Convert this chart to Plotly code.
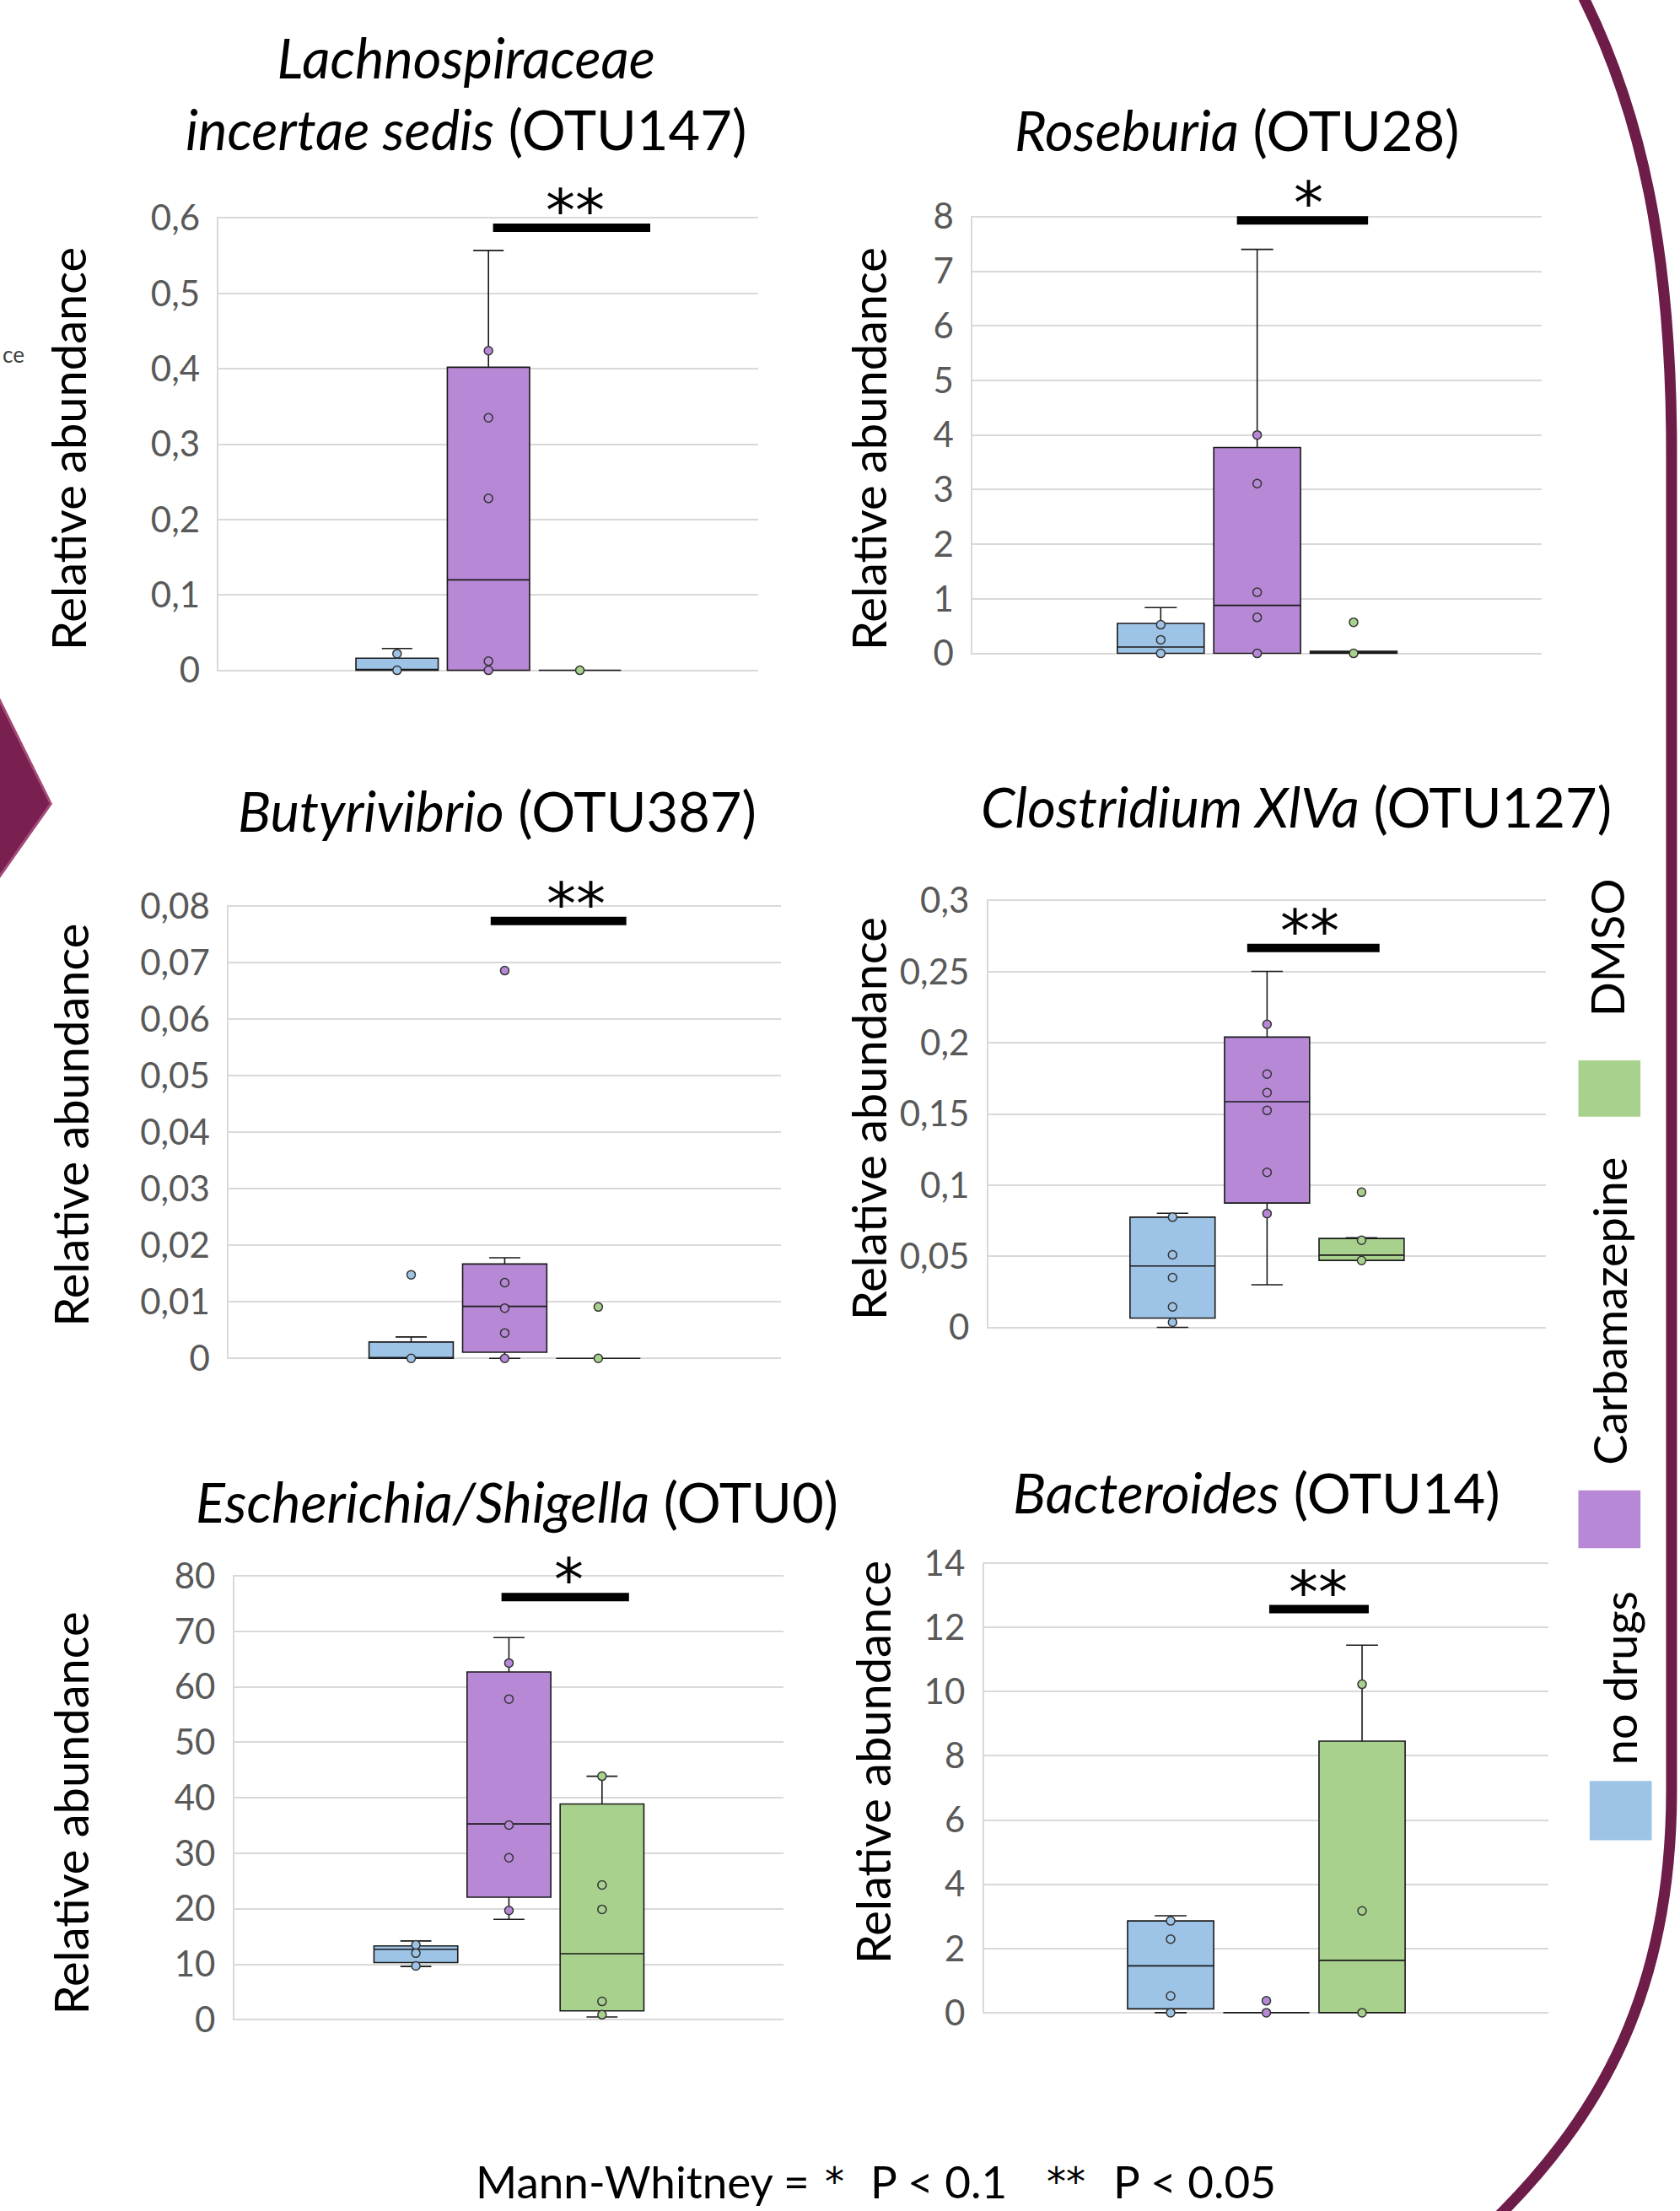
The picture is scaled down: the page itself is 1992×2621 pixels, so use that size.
import plotly.graph_objects as go

# ---------------- data ----------------
groups = ["no drugs", "Carbamazepine", "DMSO"]
group_pos = [0, 1, 2]

titles = [
    "<i>Lachnospiraceae</i><br><i>incertae sedis</i> (OTU147)",
    "<i>Roseburia</i> (OTU28)",
    "<i>Butyrivibrio</i> (OTU387)",
    "<i>Clostridium XlVa</i> (OTU127)",
    "<i>Escherichia/Shigella</i> (OTU0)",
    "<i>Bacteroides</i> (OTU14)",
]

# box statistics per panel: [no drugs, Carbamazepine, DMSO]
otu147_q1 = [0.0, 0.0, 0.0]
otu147_median = [0.0, 0.120, 0.0]
otu147_q3 = [0.016, 0.402, 0.0]
otu147_low = [0.0, 0.0, 0.0]
otu147_high = [0.029, 0.557, 0.0]
otu147_points = [[0.0, 0.022], [0.0, 0.012, 0.228, 0.335, 0.424], [0.0]]

otu28_q1 = [0.0, 0.0, 0.0]
otu28_median = [0.117, 0.88, 0.02]
otu28_q3 = [0.55, 3.77, 0.04]
otu28_low = [0.0, 0.0, 0.0]
otu28_high = [0.84, 7.4, 0.04]
otu28_points = [[0.0, 0.25, 0.525], [0.0, 0.66, 1.12, 3.11, 4.0], [0.0, 0.57]]

otu387_q1 = [0.0, 0.0011, 0.0]
otu387_median = [0.0, 0.0092, 0.0]
otu387_q3 = [0.0029, 0.0167, 0.0]
otu387_low = [0.0, 0.0, 0.0]
otu387_high = [0.0038, 0.0178, 0.0]
otu387_points = [[0.0, 0.0148], [0.0, 0.0045, 0.0089, 0.0134, 0.0686], [0.0, 0.0091]]

otu127_q1 = [0.0066, 0.0874, 0.0471]
otu127_median = [0.0432, 0.1586, 0.0508]
otu127_q3 = [0.0775, 0.204, 0.0625]
otu127_low = [0.0, 0.030, 0.0471]
otu127_high = [0.0802, 0.2502, 0.063]
otu127_points = [[0.0036, 0.0144, 0.035, 0.051, 0.0775],
                 [0.080, 0.109, 0.1525, 0.165, 0.178, 0.213],
                 [0.047, 0.0613, 0.095]]

otu0_q1 = [10.3, 22.1, 1.6]
otu0_median = [12.7, 35.3, 11.9]
otu0_q3 = [13.3, 62.7, 38.9]
otu0_low = [9.6, 18.1, 0.5]
otu0_high = [14.2, 68.9, 43.9]
otu0_points = [[9.7, 12.0, 13.5], [19.7, 29.2, 35.1, 57.8, 64.3], [0.9, 3.3, 19.9, 24.3, 43.9]]

otu14_q1 = [0.12, 0.0, 0.0]
otu14_median = [1.46, 0.0, 1.63]
otu14_q3 = [2.86, 0.0, 8.46]
otu14_low = [0.0, 0.0, 0.0]
otu14_high = [3.02, 0.0, 11.45]
otu14_points = [[0.0, 0.52, 2.29, 2.86], [0.0, 0.37], [0.0, 3.17, 10.23]]

# y tick values and labels
ticks_147 = [0, 0.1, 0.2, 0.3, 0.4, 0.5, 0.6]
labels_147 = ["0", "0,1", "0,2", "0,3", "0,4", "0,5", "0,6"]
ticks_28 = [0, 1, 2, 3, 4, 5, 6, 7, 8]
labels_28 = ["0", "1", "2", "3", "4", "5", "6", "7", "8"]
ticks_387 = [0, 0.01, 0.02, 0.03, 0.04, 0.05, 0.06, 0.07, 0.08]
labels_387 = ["0", "0,01", "0,02", "0,03", "0,04", "0,05", "0,06", "0,07", "0,08"]
ticks_127 = [0, 0.05, 0.1, 0.15, 0.2, 0.25, 0.3]
labels_127 = ["0", "0,05", "0,1", "0,15", "0,2", "0,25", "0,3"]
ticks_0 = [0, 10, 20, 30, 40, 50, 60, 70, 80]
labels_0 = ["0", "10", "20", "30", "40", "50", "60", "70", "80"]
ticks_14 = [0, 2, 4, 6, 8, 10, 12, 14]
labels_14 = ["0", "2", "4", "6", "8", "10", "12", "14"]

# significance bars (Carbamazepine vs DMSO), in data units
sig_x0 = [1.05, 0.79, 0.85, 0.79, 0.92, 1.03]
sig_x1 = [2.77, 2.15, 2.30, 2.19, 2.29, 2.07]
sig_y = [0.587, 7.93, 0.0774, 0.2667, 76.2, 12.57]
sig_star_x = [1.95, 1.53, 1.76, 1.45, 1.64, 1.54]
sig_label = ["**", "*", "**", "**", "*", "**"]

legend_labels = ["DMSO", "Carbamazepine", "no drugs"]

# ---------------- styling ----------------
colors = ["#9dc3e6", "#b688d6", "#a9d18e"]
FONT = "Lato"
STAR_FONT = "DejaVu Sans"
W_REF, H_REF = 1190.0, 1568.0


def px(x):
    return x / W_REF


def py(y):
    return 1 - y / H_REF


panels = [
    dict(q1=otu147_q1, med=otu147_median, q3=otu147_q3, lo=otu147_low, hi=otu147_high,
         pts=otu147_points, tv=ticks_147, tt=labels_147,
         dom_x=(155, 537), dom_y=(154, 476), title_xy=(330, 66), ytitle_xy=(48, 318)),
    dict(q1=otu28_q1, med=otu28_median, q3=otu28_q3, lo=otu28_low, hi=otu28_high,
         pts=otu28_points, tv=ticks_28, tt=labels_28,
         dom_x=(689, 1092), dom_y=(153, 464), title_xy=(876, 92), ytitle_xy=(615, 318)),
    dict(q1=otu387_q1, med=otu387_median, q3=otu387_q3, lo=otu387_low, hi=otu387_high,
         pts=otu387_points, tv=ticks_387, tt=labels_387,
         dom_x=(162, 553), dom_y=(642, 964), title_xy=(352, 575), ytitle_xy=(50, 798)),
    dict(q1=otu127_q1, med=otu127_median, q3=otu127_q3, lo=otu127_low, hi=otu127_high,
         pts=otu127_points, tv=ticks_127, tt=labels_127,
         dom_x=(700, 1095), dom_y=(638, 942), title_xy=(918, 572), ytitle_xy=(615, 793)),
    dict(q1=otu0_q1, med=otu0_median, q3=otu0_q3, lo=otu0_low, hi=otu0_high,
         pts=otu0_points, tv=ticks_0, tt=labels_0,
         dom_x=(166, 555), dom_y=(1117, 1433), title_xy=(366, 1065), ytitle_xy=(50, 1286)),
    dict(q1=otu14_q1, med=otu14_median, q3=otu14_q3, lo=otu14_low, hi=otu14_high,
         pts=otu14_points, tv=ticks_14, tt=labels_14,
         dom_x=(697, 1097), dom_y=(1108, 1428), title_xy=(890, 1058), ytitle_xy=(618, 1250)),
]

fig = go.Figure()
annotations = []
shapes = []
layout_axes = {}

for i, p in enumerate(panels):
    n = i + 1
    xa = "x" if n == 1 else f"x{n}"
    ya = "y" if n == 1 else f"y{n}"
    xkey = "xaxis" if n == 1 else f"xaxis{n}"
    ykey = "yaxis" if n == 1 else f"yaxis{n}"
    for g in range(3):
        fig.add_trace(go.Box(
            x=[group_pos[g]], q1=[p["q1"][g]], median=[p["med"][g]], q3=[p["q3"][g]],
            lowerfence=[p["lo"][g]], upperfence=[p["hi"][g]],
            width=0.9, whiskerwidth=0.37, fillcolor=colors[g],
            line=dict(color="#1a1a1a", width=1.6), boxpoints=False,
            xaxis=xa, yaxis=ya, showlegend=False, name=groups[g]))
        fig.add_trace(go.Scatter(
            x=[group_pos[g]] * len(p["pts"][g]), y=p["pts"][g], mode="markers",
            marker=dict(size=10, color=colors[g], line=dict(color="#333333", width=1.5)),
            xaxis=xa, yaxis=ya, showlegend=False, cliponaxis=False, name=groups[g]))
    top = p["tv"][-1]
    layout_axes[xkey] = dict(domain=[px(p["dom_x"][0]), px(p["dom_x"][1])], range=[-1.95, 3.95],
                             showgrid=False, zeroline=False, showticklabels=False, ticks="",
                             showline=False, fixedrange=True, anchor=ya)
    layout_axes[ykey] = dict(domain=[py(p["dom_y"][1]), py(p["dom_y"][0])],
                             range=[-top * 0.002, top * 1.002],
                             tickvals=p["tv"], ticktext=p["tt"], showgrid=True,
                             gridcolor="#d9d9d9", gridwidth=2, zeroline=False,
                             showline=True, linecolor="#d9d9d9", linewidth=2, ticks="",
                             ticklabelstandoff=12,
                             tickfont=dict(family=FONT, size=42, color="#595959"), anchor=xa)
    # significance bar and stars
    shapes.append(dict(type="line", xref=xa, yref=ya, x0=sig_x0[i], x1=sig_x1[i],
                       y0=sig_y[i], y1=sig_y[i], line=dict(color="black", width=10)))
    annotations.append(dict(x=sig_star_x[i], y=sig_y[i], xref=xa, yref=ya, text=sig_label[i],
                            showarrow=False, yanchor="middle", yshift=20,
                            font=dict(family=STAR_FONT, size=70, color="black")))
    # panel title
    annotations.append(dict(x=px(p["title_xy"][0]), y=py(p["title_xy"][1]), xref="paper",
                            yref="paper", text=titles[i], showarrow=False, xanchor="center",
                            yanchor="middle", font=dict(family=FONT, size=65, color="black")))
    # y axis title
    annotations.append(dict(x=px(p["ytitle_xy"][0]), y=py(p["ytitle_xy"][1]), xref="paper",
                            yref="paper", text="Relative abundance", showarrow=False,
                            textangle=-90, xanchor="center", yanchor="middle",
                            font=dict(family=FONT, size=56, color="black")))

# legend (rotated text + coloured squares)
legend_text_xy = [(1138, 672), (1140, 930), (1147, 1190)]
legend_square = [(1118, 752, 1162, 792), (1118, 1057, 1162, 1098), (1126, 1263, 1170, 1305)]
legend_colors = [colors[2], colors[1], colors[0]]
for k in range(3):
    annotations.append(dict(x=px(legend_text_xy[k][0]), y=py(legend_text_xy[k][1]),
                            xref="paper", yref="paper", text=legend_labels[k], showarrow=False,
                            textangle=-90, xanchor="center", yanchor="middle",
                            font=dict(family=FONT, size=54, color="black")))
    x0, y0, x1, y1 = legend_square[k]
    shapes.append(dict(type="rect", xref="paper", yref="paper", x0=px(x0), x1=px(x1),
                       y0=py(y1), y1=py(y0), fillcolor=legend_colors[k], line=dict(width=0)))

# footer
footer_parts = [("Mann-Whitney =", 455, FONT, 53, 0), ("*", 591, STAR_FONT, 46, 0),
                ("P < 0.1", 665, FONT, 53, 0), ("**", 755, STAR_FONT, 46, 0),
                ("P < 0.05", 846, FONT, 53, 0)]
for txt, xc, fam, sz, ys in footer_parts:
    annotations.append(dict(x=px(xc), y=py(1547), xref="paper", yref="paper", text=txt,
                            showarrow=False, xanchor="center", yanchor="middle", yshift=ys,
                            font=dict(family=fam, size=sz, color="black")))

# small fragment on the left edge
annotations.append(dict(x=px(1), y=py(251), xref="paper", yref="paper", text="ce",
                        showarrow=False, xanchor="left", yanchor="middle", borderpad=0,
                        font=dict(family=FONT, size=26, color="#404040")))

# decorative maroon bracket on the right
def P(x, y):
    return f"{px(x):.5f},{py(y):.5f}"

bracket = (f"M {P(1120, -5)} C {P(1163, 80)} {P(1184, 180)} {P(1184, 320)} "
           f"L {P(1184, 1270)} C {P(1184, 1410)} {P(1135, 1500)} {P(1058, 1575)}")
shapes.append(dict(type="path", xref="paper", yref="paper", path=bracket,
                   line=dict(color="#6e1c48", width=13)))
# decorative chevron on the left
chev = f"M {P(-2, 493)} L {P(36, 570)} L {P(-2, 624)} Z"
shapes.append(dict(type="path", xref="paper", yref="paper", path=chev,
                   fillcolor="#7a2050", line=dict(color="#a44a78", width=3)))

fig.update_layout(
    width=1992, height=2621, margin=dict(l=0, r=0, t=0, b=0, autoexpand=False),
    paper_bgcolor="white", plot_bgcolor="white",
    annotations=annotations, shapes=shapes, showlegend=False,
    font=dict(family=FONT), **layout_axes)

fig.write_html(
    "out.html",
    config={"displayModeBar": False},
    post_script="document.body.style.margin='0';document.body.style.overflow='hidden';",
)
